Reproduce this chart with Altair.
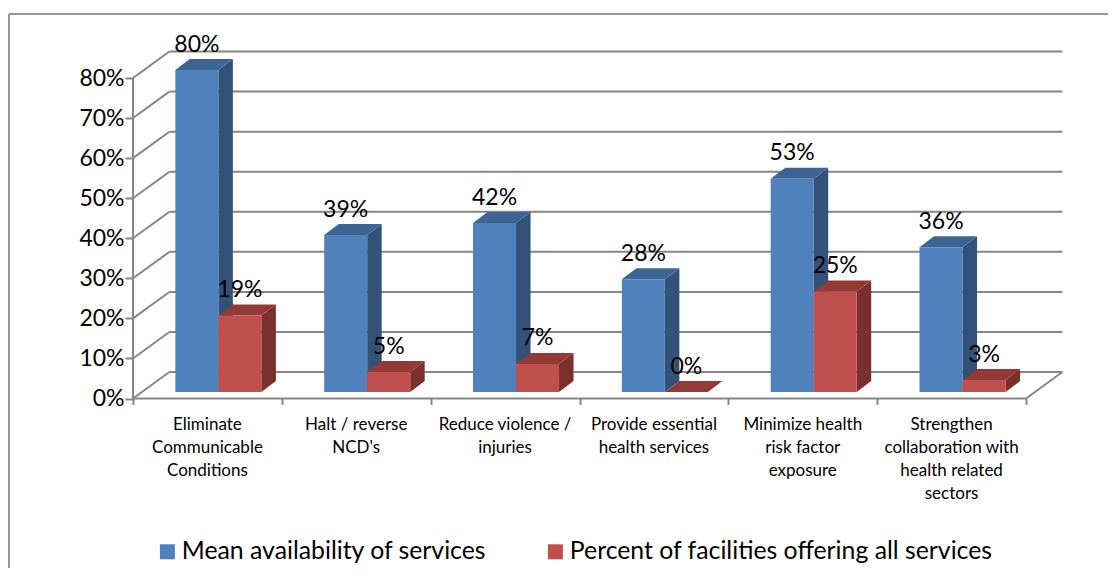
import altair as alt
import pandas as pd

categories = ["Eliminate\nCommunicable\nConditions", "Halt / reverse\nNCD's", "Reduce violence /\ninjuries",
              "Provide essential\nhealth services", "Minimize health\nrisk factor\nexposure",
              "Strengthen\ncollaboration with\nhealth related\nsectors"]
mean_avail = [80, 39, 42, 28, 53, 36]
pct_all = [19, 5, 7, 0, 25, 3]
series_names = ["Mean availability of services", "Percent of facilities offering all services"]
y_ticks = [0, 10, 20, 30, 40, 50, 60, 70, 80]
x_ticks = [0, 1, 2, 3, 4, 5, 6]

# 3-D look, in data units (x: one unit per category, y: percent)
BAR_W, BAR_START, DX, DY = 0.289, 0.2845, 0.0975, 2.75
BASE = 1.6
WALL_X, WALL_Y = 0.2445, 6.6
SCALE_K = 1.005

fronts, sides, tops, labels = [], [], [], []
for s, (name, vals) in enumerate(zip(series_names, [mean_avail, pct_all])):
    for i, v in enumerate(vals):
        xl = i + BAR_START + s * BAR_W
        xr = xl + BAR_W
        top = BASE + v * SCALE_K
        fronts.append(dict(series=name, xl=xl, xr=xr, base=BASE, top=top))
        sides += [dict(series=name, bar=i, x=xr, y=BASE, y2=top),
                  dict(series=name, bar=i, x=xr + DX, y=BASE + DY, y2=top + DY)]
        tops += [dict(series=name, bar=i, y=top, x=xl, x2=xr),
                 dict(series=name, bar=i, y=top + DY, x=xl + DX, x2=xr + DX)]
        labels.append(dict(x=(xl + xr) / 2, y=top + DY + 3.6, text=f"{v}%"))
fronts, sides, tops = map(pd.DataFrame, (fronts, sides, tops))

GRID = "#868686"
xscale = alt.Scale(domain=[0, 6], nice=False, zero=False)
yscale = alt.Scale(domain=[0, 80], nice=False)
xaxis = alt.Axis(values=x_ticks, labels=False, domain=False, grid=False, tickSize=6, tickColor=GRID, tickWidth=2)
yaxis = alt.Axis(values=y_ticks, format=".0f", labelExpr="datum.value + '%'", domain=False, grid=False,
                 tickSize=8, tickColor=GRID, tickWidth=2, labelFontSize=23, labelColor="#000000",
                 labelFont="Lato", labelPadding=1)
xs = alt.X("x:Q", scale=xscale, title=None, axis=xaxis)
ys = alt.Y("y:Q", scale=yscale, title=None, axis=yaxis)

wall = pd.DataFrame([dict(k=k, x=WALL_X, y=k + WALL_Y, x2=6 + WALL_X) for k in y_ticks])
diag = pd.DataFrame([p for k in y_ticks for p in (dict(k=k, x=0, y=k), dict(k=k, x=WALL_X, y=k + WALL_Y))]
                    + [dict(k=-1, x=6, y=0), dict(k=-1, x=6 + WALL_X, y=WALL_Y)])

wall_lines = alt.Chart(wall).mark_rule(color=GRID, strokeWidth=2).encode(x=xs, x2="x2:Q", y=ys)
diag_lines = alt.Chart(diag).mark_line(color=GRID, strokeWidth=2).encode(x=xs, y=ys, detail="k:N")
left_line = alt.Chart(pd.DataFrame(dict(x=[0], y=[0], y2=[80]))).mark_rule(color=GRID, strokeWidth=2).encode(x=xs, y=ys, y2="y2:Q")
floor_line = alt.Chart(pd.DataFrame(dict(x=[0], x2=[6], y=[0]))).mark_rule(color=GRID, strokeWidth=2).encode(x=xs, x2="x2:Q", y=ys)

FACE = {series_names[0]: ("#33527A", "#3D6594"), series_names[1]: ("#7B2F2D", "#933936")}
color = alt.Color("series:N", scale=alt.Scale(domain=series_names, range=["#4F81BD", "#C0504D"]),
                  legend=alt.Legend(title=None, orient="none", legendX=22, legendY=461, direction="horizontal",
                                    symbolType="square", symbolSize=225, symbolStrokeWidth=0, symbolOpacity=1,
                                    labelFontSize=24.8, labelFont="Lato", labelColor="#000000", labelLimit=600,
                                    columnPadding=56, labelOffset=2))

bar_layers = []
for name in series_names:
    side_c, top_c = FACE[name]
    bar_layers += [
        alt.Chart(sides[sides.series == name]).mark_area(color=side_c).encode(x=xs, y=ys, y2="y2:Q", detail="bar:N"),
        alt.Chart(tops[tops.series == name]).mark_area(color=top_c, orient="horizontal").encode(
            y=ys, x=xs, x2="x2:Q", detail="bar:N"),
        alt.Chart(fronts[fronts.series == name]).mark_rect().encode(
            x=alt.X("xl:Q", scale=xscale, title=None, axis=xaxis),
            x2="xr:Q",
            y=alt.Y("base:Q", scale=yscale, title=None, axis=yaxis),
            y2="top:Q", color=color),
    ]

value_text = alt.Chart(pd.DataFrame(labels)).mark_text(fontSize=23, font="Lato", color="#000000", baseline="middle").encode(
    x=xs, y=ys, text="text:N")

cat_rows = [dict(x=i + 0.5, y=-6.5, text=c.split("\n")) for i, c in enumerate(categories)]
cat_text = alt.Chart(pd.DataFrame(cat_rows)).mark_text(fontSize=17, font="Lato", color="#000000", baseline="middle",
                                                       lineHeight=23).encode(x=xs, y=ys, text="text")

FRAME = "#969696"
frame_top = alt.Chart(pd.DataFrame(dict(k=[0]))).mark_rule(color=FRAME, strokeWidth=2).encode(
    x=alt.value(-124), x2=alt.value(975), y=alt.value(-64))
frame_left = alt.Chart(pd.DataFrame(dict(k=[0]))).mark_rule(color=FRAME, strokeWidth=2).encode(
    x=alt.value(-124), y=alt.value(-64), y2=alt.value(490))

chart = alt.layer(frame_top, frame_left, wall_lines, diag_lines, left_line, floor_line,
                  *bar_layers, value_text, cat_text).resolve_scale(color="shared").properties(
    width=893, height=320.5, background="#FFFFFF",
    autosize=alt.AutoSizeParams(type="none"),
    padding=dict(left=125, top=70, right=82, bottom=169.5),
).configure_view(stroke=None)

chart.save("out.html", embed_options={"renderer": "svg", "actions": False})
